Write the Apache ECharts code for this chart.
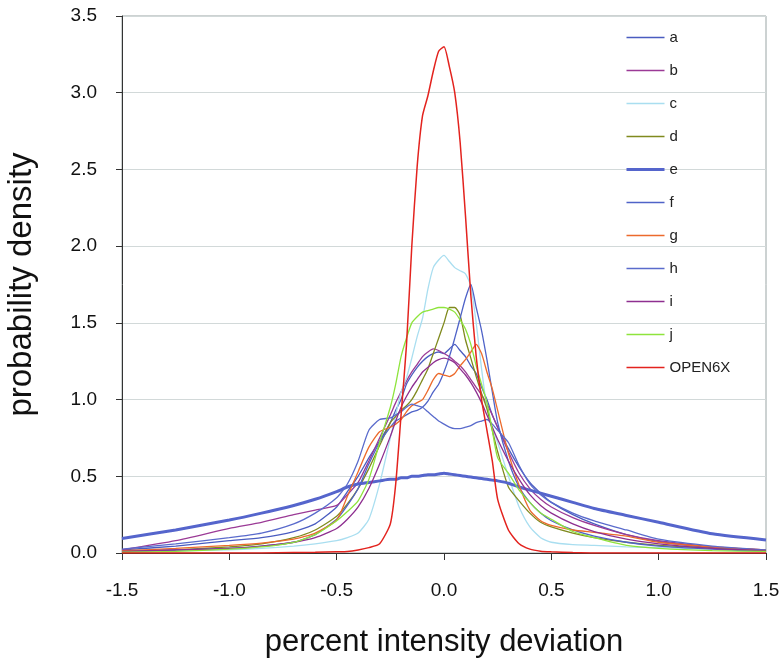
<!DOCTYPE html>
<html>
<head>
<meta charset="utf-8">
<script src="https://cdn.jsdelivr.net/npm/echarts@6/dist/echarts.min.js"></script>
<style>
html,body{margin:0;padding:0;background:#fff;}
#chart{width:780px;height:660px;}
</style>
</head>
<body>
<div id="chart"></div>
<script>
// shared x grid (percent intensity deviation)
const xs = [-1.5,-1.25,-1.0,-0.85,-0.7,-0.6,-0.5,-0.45,-0.4,-0.35,-0.3,
  -0.25,-0.225,-0.2,-0.175,-0.15,-0.125,-0.1,-0.075,-0.05,-0.025,0,0.025,0.05,0.075,0.1,0.125,0.15,0.175,0.2,0.225,0.25,
  0.3,0.35,0.4,0.45,0.5,0.6,0.7,0.85,1.0,1.25,1.5];

const seriesNames = ['a','b','c','d','e','f','g','h','i','j','OPEN6X'];

const aVals = [0.02,0.045,0.08,0.1,0.14,0.19,0.3,0.4,0.5,0.62,0.73,
  0.85,0.93,1.0,1.1,1.16,1.21,1.25,1.28,1.3,1.31,1.3,1.33,1.36,1.32,1.28,1.22,1.17,1.08,1.0,0.9,0.82,
  0.68,0.56,0.46,0.39,0.33,0.25,0.19,0.12,0.075,0.035,0.02];
const bVals = [0.02,0.08,0.16,0.2,0.25,0.28,0.31,0.38,0.46,0.6,0.75,
  0.9,0.98,1.05,1.12,1.18,1.23,1.28,1.31,1.33,1.32,1.3,1.28,1.25,1.22,1.18,1.13,1.08,1.03,0.97,0.9,0.82,
  0.66,0.52,0.42,0.35,0.3,0.23,0.18,0.12,0.08,0.04,0.02];
const cVals = [0.01,0.015,0.02,0.03,0.045,0.06,0.08,0.1,0.13,0.22,0.45,
  0.75,0.9,1.05,1.14,1.27,1.41,1.53,1.72,1.86,1.91,1.94,1.9,1.86,1.84,1.82,1.74,1.5,1.2,0.95,0.82,0.72,
  0.5,0.3,0.17,0.1,0.07,0.055,0.05,0.04,0.035,0.025,0.02];
const dVals = [0.01,0.02,0.04,0.06,0.1,0.15,0.24,0.32,0.42,0.55,0.7,
  0.85,0.89,0.93,0.96,1.0,1.06,1.13,1.2,1.3,1.4,1.5,1.6,1.6,1.55,1.39,1.27,1.15,1.04,0.94,0.8,0.66,
  0.43,0.34,0.26,0.2,0.17,0.13,0.1,0.07,0.05,0.03,0.015];
const eVals = [0.095,0.15,0.215,0.26,0.31,0.35,0.4,0.43,0.45,0.46,0.47,
  0.48,0.48,0.49,0.49,0.5,0.5,0.505,0.51,0.51,0.515,0.52,0.515,0.51,0.505,0.5,0.495,0.49,0.485,0.48,0.475,0.47,
  0.455,0.43,0.41,0.39,0.37,0.33,0.29,0.245,0.2,0.125,0.085];
const fVals = [0.01,0.02,0.03,0.045,0.07,0.12,0.22,0.31,0.42,0.58,0.72,
  0.82,0.86,0.88,0.9,0.92,0.93,0.95,0.99,1.05,1.1,1.18,1.28,1.4,1.53,1.66,1.75,1.6,1.45,1.26,1.05,0.85,
  0.6,0.43,0.33,0.26,0.21,0.15,0.11,0.07,0.045,0.025,0.01];
const gVals = [0.015,0.03,0.05,0.065,0.09,0.13,0.215,0.37,0.53,0.69,0.79,
  0.82,0.84,0.87,0.92,0.96,0.98,1.0,1.06,1.13,1.17,1.16,1.15,1.17,1.22,1.26,1.31,1.36,1.3,1.18,1.07,0.93,
  0.65,0.44,0.28,0.21,0.18,0.15,0.135,0.11,0.07,0.04,0.02];
const hVals = [0.025,0.06,0.1,0.13,0.19,0.26,0.36,0.45,0.6,0.8,0.87,
  0.88,0.9,0.92,0.95,0.97,0.96,0.95,0.92,0.89,0.86,0.84,0.82,0.81,0.81,0.82,0.83,0.85,0.86,0.87,0.84,0.8,
  0.72,0.57,0.45,0.38,0.33,0.26,0.21,0.15,0.09,0.045,0.02];
const iVals = [0.01,0.02,0.03,0.045,0.07,0.1,0.16,0.22,0.3,0.42,0.58,
  0.76,0.86,0.95,1.02,1.08,1.13,1.18,1.21,1.24,1.26,1.27,1.26,1.24,1.2,1.16,1.11,1.05,0.98,0.9,0.82,0.74,
  0.6,0.48,0.38,0.31,0.26,0.19,0.14,0.09,0.06,0.03,0.015];
const jVals = [0.005,0.01,0.025,0.04,0.07,0.12,0.21,0.27,0.34,0.48,0.72,
  0.95,1.1,1.28,1.4,1.5,1.54,1.57,1.58,1.59,1.6,1.6,1.59,1.57,1.52,1.46,1.36,1.22,1.1,0.98,0.8,0.62,
  0.52,0.41,0.33,0.26,0.22,0.14,0.1,0.05,0.03,0.015,0.01];
const open6xVals = [0,0,0,0,0.003,0.005,0.008,0.01,0.02,0.035,0.06,
  0.19,0.45,0.9,1.35,2.0,2.52,2.85,2.98,3.14,3.27,3.3,3.17,3.0,2.68,2.2,1.68,1.28,1.0,0.8,0.6,0.35,
  0.15,0.06,0.025,0.012,0.008,0.003,0,0,0,0,0];

const xTicks = [-1.5,-1.0,-0.5,0.0,0.5,1.0,1.5];
const yTicks = [0.0,0.5,1.0,1.5,2.0,2.5,3.0,3.5];

const valueSets = [aVals,bVals,cVals,dVals,eVals,fVals,gVals,hVals,iVals,jVals,open6xVals];
const colors = ['#4a5cc0','#9b3a96','#a9def0','#808a1e','#5565cc','#4f63c8','#ec6a2c','#5a6bcc','#8e2f90','#8ee43c','#e3231e'];
const widths = [1.3,1.3,1.3,1.3,3,1.3,1.3,1.3,1.3,1.3,1.5];

const chart = echarts.init(document.getElementById('chart'), null, {renderer:'canvas'});
const FONT = '"Liberation Sans", Arial, Helvetica, sans-serif';

chart.setOption({
  animation: false,
  backgroundColor: '#fff',
  textStyle: {fontFamily: FONT},
  grid: {left: 122, right: 14, top: 16, bottom: 107, show: true, borderColor: '#9aa5a5', borderWidth: 1,
         containLabel: false, outerBoundsMode: 'none'},
  legend: {
    orient: 'vertical', left: 620, top: 25,
    itemWidth: 38, itemHeight: 14, itemGap: 18, itemTextGap: 5,
    itemStyle: {opacity: 0},
    textStyle: {fontSize: 15, color: '#222', fontFamily: FONT},
    data: seriesNames.map((n, k) => ({name: n, lineStyle: {width: widths[k], color: colors[k]}}))
  },
  xAxis: {
    type: 'value', min: xTicks[0], max: xTicks[xTicks.length-1], interval: 0.5,
    name: 'percent intensity deviation', nameLocation: 'middle', nameGap: 74,
    nameTextStyle: {fontSize: 31, color: '#111', fontFamily: FONT},
    axisLine: {show: true, onZero: false, lineStyle: {color: '#333', width: 1}},
    axisTick: {show: true, length: 7, lineStyle: {color: '#333'}},
    axisLabel: {fontSize: 19, color: '#111', margin: 28, formatter: v => v.toFixed(1)},
    splitLine: {show: false}
  },
  yAxis: {
    type: 'value', min: yTicks[0], max: yTicks[yTicks.length-1], interval: 0.5,
    name: 'probability density', nameLocation: 'middle', nameGap: 84,
    nameTextStyle: {fontSize: 33, color: '#111', fontFamily: FONT},
    axisLine: {show: true, onZero: false, lineStyle: {color: '#333', width: 1}},
    axisTick: {show: true, length: 6, lineStyle: {color: '#333'}},
    axisLabel: {fontSize: 19, color: '#111', margin: 25, formatter: v => v.toFixed(1)},
    splitLine: {show: true, lineStyle: {color: '#d2d9d9', width: 1}}
  },
  series: seriesNames.map((n, k) => ({
    name: n, type: 'line', symbol: 'none', smooth: 0.2,
    data: xs.map((x, i) => [x, valueSets[k][i]]),
    lineStyle: {color: colors[k], width: widths[k]},
    itemStyle: {color: colors[k]}
  }))
});
</script>
</body>
</html>
